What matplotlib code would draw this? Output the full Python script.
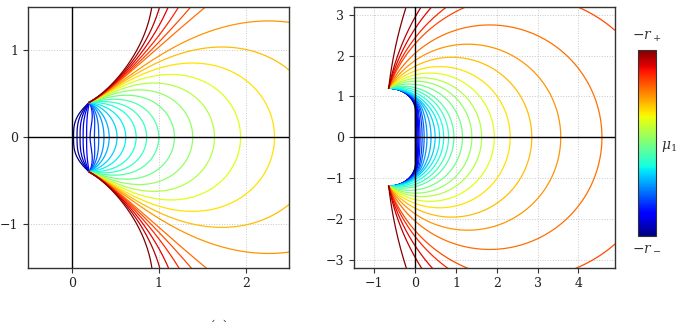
import numpy as np
import matplotlib
matplotlib.use("Agg")
import matplotlib.pyplot as plt
from matplotlib.colors import Normalize
from matplotlib.cm import ScalarMappable

plt.rcParams['font.family'] = ['DejaVu Serif']
plt.rcParams['mathtext.fontset'] = 'dejavuserif'

# ---------------- data ----------------
# left panel: focus point and one point each level curve passes through
left_focus = (0.2, 0.4)
left_px = [0.02, 0.06, 0.095, 0.13, 0.17, 0.21, 0.26, 0.31, 0.37, 0.43, 0.52, 0.62,
           0.74, 0.86, 1.0, 1.18, 1.39, 1.64, 1.94, 2.33,
           2.5, 2.5, 1.54, 1.37, 1.23, 1.11, 1.01, 0.92]
left_py = [0.0] * 20 + [0.77, 1.32, 1.5, 1.5, 1.5, 1.5, 1.5, 1.5]
left_mu = [0.0, 0.03, 0.06, 0.09, 0.12, 0.15, 0.19, 0.23, 0.27, 0.30, 0.33, 0.36,
           0.39, 0.42, 0.45, 0.49, 0.53, 0.57, 0.62, 0.67,
           0.71, 0.75, 0.79, 0.83, 0.87, 0.91, 0.95, 1.0]

# right panel
right_focus = (-0.65, 1.2)
right_px = [0.005, 0.02, 0.04, 0.065, 0.09, 0.12, 0.17, 0.22, 0.29, 0.39, 0.49, 0.60,
            0.70, 0.82, 0.95, 1.16, 1.39, 1.63, 1.94, 2.33, 2.86, 3.57, 4.58,
            4.9, 0.78, 0.41, 0.15, -0.22]
right_py = [0.0] * 23 + [2.62, 3.2, 3.2, 3.2, 3.2]
right_mu = [0.0, 0.03, 0.06, 0.09, 0.12, 0.15, 0.19, 0.23, 0.27, 0.30, 0.33, 0.36,
            0.39, 0.42, 0.45, 0.49, 0.53, 0.57, 0.62, 0.67, 0.71, 0.75, 0.79,
            0.83, 0.87, 0.91, 0.95, 1.0]

left_xticks = [0, 1, 2]
left_yticks = [-1, 0, 1]
right_xticks = [-1, 0, 1, 2, 3, 4]
right_yticks = [-3, -2, -1, 0, 1, 2, 3]
cbar_top_label = r'$-r_+$'
cbar_bottom_label = r'$-r_-$'
cbar_label = r'$\mu_1$'
panel_label = '(a)'

# ---------------- geometry helpers ----------------
def circle_arc(fx, fy, px, py, n=500):
    c = (px ** 2 + py ** 2 - fx ** 2 - fy ** 2) / (2 * (px - fx))
    R = np.hypot(fx - c, fy)
    phf = np.arctan2(fy, fx - c)
    php = np.arctan2(py, px - c)
    if php <= phf + 1e-9:
        phi = np.linspace(0, phf, n)
        closed = True
    else:
        phi = np.linspace(phf, np.pi, n)
        closed = False
    return c + R * np.cos(phi), R * np.sin(phi), closed


def left_curve(px, py, n=500):
    fx, fy = left_focus
    if py == 0 and px < fx:
        y = np.linspace(0, fy, n)
        x = fx + (px - fx) * np.cos(np.pi / 2 * (y / fy) ** 1.5)
        return x, y, True
    ufx, ufy = fx ** 2 - fy ** 2, 2 * fx * fy
    upx, upy = px ** 2 - py ** 2, 2 * px * py
    ux, uy, closed = circle_arc(ufx, ufy, upx, upy, n)
    w = np.sqrt(ux + 1j * np.abs(uy))
    return w.real, w.imag, closed


def right_curve(px, py, n=500):
    fx, fy = right_focus
    xstar = fx + fy
    if py == 0 and px < xstar:
        y0 = 0.65
        y = np.linspace(0, fy, n)
        s = np.clip((y - y0) / (fy - y0), 0, 1)
        B = np.where(y <= y0, 0.0, fx - fx * np.sqrt(np.clip(1 - s ** 2, 0, 1)))
        C = fx + np.sqrt(np.clip(fy ** 2 - y ** 2, 0, None))
        t = px / xstar
        return B + t * (C - B), y, True
    return circle_arc(fx, fy, px, py, n)


cmap = plt.get_cmap('jet')

fig = plt.figure(figsize=(6.83, 3.22), dpi=100)
axL = fig.add_axes([28.3 / 683, 1 - 267.7 / 322, 261 / 683, 261 / 322])
axR = fig.add_axes([354 / 683, 1 - 267.7 / 322, 261 / 683, 261 / 322])
cax = fig.add_axes([638.3 / 683, 1 - 236 / 322, 17.7 / 683, 186 / 322])


def plot_family(ax, pxs, pys, mus, fn):
    for px, py, mu in zip(pxs, pys, mus):
        x, y, closed = fn(px, py)
        col = cmap(mu)
        if closed:
            xf = np.concatenate([x[::-1], x[1:]])
            yf = np.concatenate([-y[::-1], y[1:]])
            ax.plot(xf, yf, color=col, lw=0.9, zorder=2)
        else:
            ax.plot(x, y, color=col, lw=0.9, zorder=2)
            ax.plot(x, -y, color=col, lw=0.9, zorder=2)


plot_family(axL, left_px, left_py, left_mu, left_curve)
plot_family(axR, right_px, right_py, right_mu, right_curve)

for ax, xl, yl, xt, yt in [(axL, (-0.5, 2.5), (-1.5, 1.5), left_xticks, left_yticks),
                           (axR, (-1.5, 4.9), (-3.2, 3.2), right_xticks, right_yticks)]:
    ax.set_xlim(*xl)
    ax.set_ylim(*yl)
    ax.set_aspect('equal')
    ax.set_xticks(xt)
    ax.set_yticks(yt)
    ax.grid(True, linestyle=':', color='#c8c8c8', lw=0.7, zorder=0)
    ax.axhline(0, color='k', lw=1.0, zorder=3)
    ax.axvline(0, color='k', lw=1.0, zorder=3)
    ax.tick_params(labelsize=9, length=3.5, width=0.8, color='#333333', labelcolor='#222222')
    for sp in ax.spines.values():
        sp.set_color('#333333')
        sp.set_linewidth(1.0)

sm = ScalarMappable(norm=Normalize(0, 1), cmap=cmap)
cb = fig.colorbar(sm, cax=cax)
cb.set_ticks([])
cb.outline.set_edgecolor('#333333')
cb.outline.set_linewidth(0.8)
fig.text(647 / 683, 1 - 37 / 322, cbar_top_label, ha='center', va='center', fontsize=10, color='#333333')
fig.text(647 / 683, 1 - 247 / 322, cbar_bottom_label, ha='center', va='center', fontsize=10, color='#333333')
fig.text(669 / 683, 1 - 147 / 322, cbar_label, ha='center', va='center', fontsize=10, color='#333333')
fig.text(219 / 683, 1 - 319.5 / 322, panel_label, ha='center', va='top', fontsize=10, color='#333333')

fig.savefig('out.png', dpi=100)
